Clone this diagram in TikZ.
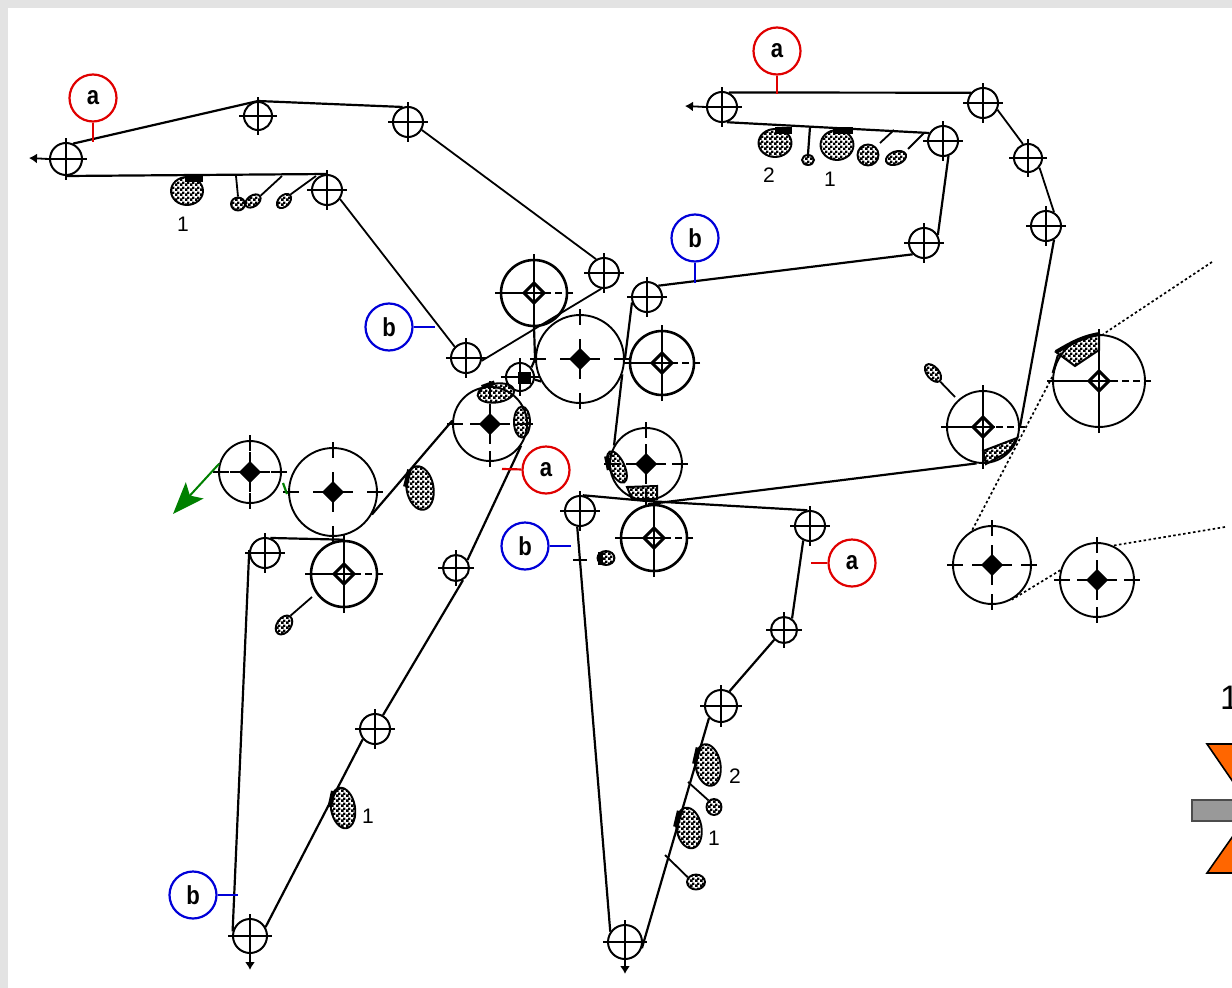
\documentclass[tikz,border=0pt]{standalone}
\usepackage{fontspec}
\setmainfont{Liberation Sans}
\usetikzlibrary{patterns,shapes.geometric,arrows.meta}
\pgfdeclarepatternformonly{checks}{\pgfqpoint{0pt}{0pt}}{\pgfqpoint{4.6pt}{4.6pt}}{\pgfqpoint{4.6pt}{4.6pt}}{%
  \pgfpathrectangle{\pgfqpoint{0pt}{0pt}}{\pgfqpoint{2.7pt}{2.7pt}}%
  \pgfpathrectangle{\pgfqpoint{2.3pt}{2.3pt}}{\pgfqpoint{2.3pt}{2.3pt}}%
  \pgfusepath{fill}}
\definecolor{redl}{HTML}{E00000}
\definecolor{bluel}{HTML}{0000D8}
\definecolor{greenl}{HTML}{008000}
\definecolor{orng}{HTML}{FF6600}
\definecolor{gry}{HTML}{999999}
\tikzset{
  rim/.style={circle,draw=black,line width=2pt,inner sep=0pt},
  thickrim/.style={circle,draw=black,line width=2.6pt,inner sep=0pt},
  thinrim/.style={circle,draw=black,line width=1.9pt,inner sep=0pt},
  belt/.style={draw=black,line width=2.2pt},
  thinbelt/.style={draw=black,line width=1.8pt},
  cross/.style={draw=black,line width=2pt},
  dotbelt/.style={draw=black,line width=1.7pt,dash pattern=on 2.5pt off 2.5pt},
  blob/.style={ellipse,draw=black,line width=1.9pt,inner sep=0pt,pattern=checks,pattern color=black},
  lab/.style={circle,line width=2.2pt,inner sep=0pt,minimum size=47pt,font=\bfseries\fontsize{26}{26}\selectfont},
  laba/.style={lab,draw=redl},
  labb/.style={lab,draw=bluel},
  labline/.style={line width=2.2pt},
  num/.style={font=\fontsize{21}{21}\selectfont,inner sep=0pt},
  tiparrow/.style={draw=black,line width=1.8pt,-{Latex[length=8pt,width=10pt]}},
  hatch/.style={draw=black,line width=2pt,pattern=checks,pattern color=black},
}
% small guide roller: name, x, y, r
\newcommand\srol[4]{\node[rim,minimum size=#4*2pt] (#1) at (#2,#3) {};
  \draw[cross] (#1.center) ++({-#4-5},0) -- ++({2*#4+10},0);
  \draw[cross] (#1.center) ++(0,{-#4-5}) -- ++(0,{2*#4+10});}
% solid hub diamond
\newcommand\hubb[2]{\fill[black] (#1,#2) ++(-11,0) -- ++(11,-11) -- ++(11,11) -- ++(-11,11) -- cycle;
  \draw[cross] (#1,#2) ++(-20,0) -- ++(40,0);
  \draw[cross] (#1,#2) ++(0,-20) -- ++(0,40);}
% large cylinder with short rim ticks and a black hub
\newcommand\brol[4]{\node[thinrim,minimum size=#4*2pt] (#1) at (#2,#3) {};
  \hubb{#2}{#3}
  \draw[cross] (#1.north) ++(0,-5) -- ++(0,16);
  \draw[cross] (#1.south) ++(0,5) -- ++(0,-16);
  \draw[cross] (#1.west) ++(-5,0) -- ++(16,0);
  \draw[cross] (#1.east) ++(5,0) -- ++(-16,0);}
% cylinder with long arms and an open hub
\newcommand\trol[5]{\node[#5,minimum size=#4*2pt] (#1) at (#2,#3) {};
  \draw[cross] (#2,#3) ++(0,{-#4-6}) -- ++(0,{#4-4});
  \draw[cross] (#2,#3) ++(0,{#4+6}) -- ++(0,{-#4+4});
  \draw[cross] (#2,#3) ++({-#4-6},0) -- ++({#4-4},0);
  \draw[cross,dash pattern=on 7pt off 4pt] (#2,#3) ++({#4+6},0) -- ++({-#4+4},0);
  \draw[black,line width=3pt] (#2,#3) ++(-10,0) -- ++(10,-10) -- ++(10,10) -- ++(-10,10) -- cycle;
  \draw[cross] (#2,#3) ++(-12,0) -- ++(24,0);
  \draw[cross] (#2,#3) ++(0,-12) -- ++(0,24);}
% dark stretch on a coater's edge
\newcommand\dab[3]{\draw[black,line width=4.5pt] (#1.#2) -- (#1.#3);}
\begin{document}
\begin{tikzpicture}[x=1pt,y=-1pt]
\useasboundingbox (0,0) rectangle (1232,988);
\clip (0,0) rectangle (1232,988);
\fill[gray!22] (0,0) rectangle (1232,988);
\fill[white] (8,8) rectangle (1232,988);
% ---- guide rollers
\srol{ta}{66}{159}{16}
\srol{tb}{258}{116}{14}
\srol{tc}{408}{122}{15}
\srol{td}{327}{190}{15}
\srol{te}{604}{273}{15}
\srol{tf}{466}{358}{15}
\srol{pa}{647}{297}{15}
\srol{ua}{722}{107}{15}
\srol{ub}{983}{103}{15}
\srol{uc}{943}{141}{15}
\srol{ud}{1028}{158}{14}
\srol{ue}{1046}{226}{15}
\srol{uf}{924}{243}{15}
\srol{ra}{265}{553}{15}
\srol{rb}{250}{936}{17}
\srol{rc}{375}{729}{15}
\srol{rd}{456}{568}{13}
\srol{pb}{580}{511}{15}
\srol{pc}{810}{526}{15}
\srol{pd}{784}{630}{13}
\srol{pe}{721}{706}{16}
\srol{pf}{625}{942}{17}
\srol{sm}{520}{377}{14}
\fill[black] (518,372) rectangle (531,384);
% ---- large cylinders
\trol{ca}{534}{293}{33}{thickrim}
\brol{cb}{580}{359}{44}
\trol{cc}{662}{363}{32}{thickrim}
\brol{cd}{490}{424}{37}
\brol{ce}{646}{464}{36}
\trol{cf}{654}{538}{33}{thickrim}
\brol{ch}{250}{472}{31}
\brol{ci}{333}{492}{44}
\trol{cj}{344}{574}{33}{thickrim}
\trol{ck}{983}{427}{36}{thinrim}
\trol{cl}{1099}{381}{46}{thinrim}
\brol{cm}{992}{565}{39}
\brol{cn}{1097}{580}{37}
% ---- felts and belts
\coordinate (tatip) at (29,158);
\draw[tiparrow] (ta.west) -- (tatip);
\path[belt] (ta.65) -- (tb.90) -- (tc.110);
\path[thinbelt] (tc.-30) -- (te.120);
\path[belt] (ta.-90) -- (td.90);
\path[thinbelt] (td.-35) -- (tf.135);
\path[thinbelt] (tf.-10) -- (te.-100);
\coordinate (uatip) at (685,106);
\draw[tiparrow] (ua.west) -- (uatip);
\path[belt] (ua.65) -- (ub.140);
\path[belt] (ua.-72) -- (uc.150);
\path[belt] (uc.-70) -- (uf.30);
\path[belt] (uf.-135) -- (pa.45);
\path[thinbelt] (ub.-25) -- (ud.110);
\path[thinbelt] (ud.-40) -- (ue.60);
\path[belt] (ue.-60) -- (ck.east);
\path[belt] (pa.-160) -- (cb.0);
\path[belt] (cb.-20) -- (ce.150);
\path[belt] (cf.100) -- (ck.-100);
\path[belt] (pb.80) -- (ce.south) -- (pc.100);
\path[belt] (pc.-115) -- (pd.55);
\path[belt] (pd.-135) -- (pe.60);
\path[belt] (pe.-135) -- (pf.-20);
\path[belt] (pf.145) -- (pb.-100);
\path[belt] (cj.90) -- (ra.70);
\path[belt] (ra.170) -- (rb.165);
\path[belt] (rb.30) -- (rc.-140);
\path[belt] (rc.60) -- (rd.-60);
\path[belt] (rd.35) -- (cd.-35);
\path[belt] (ci.-30) -- (cd.175);
\path[belt] (ca.south) -- (cb.west) -- (sm.40);
\path[belt] (cb.-150) -- (sm.-10);
% dotted web
\coordinate (wa) at (1212,262);
\coordinate (wb) at (1225,527);
\path[dotbelt] (wa) -- (cl.85);
\path[dotbelt] (cl.175) -- (cm.120);
\path[dotbelt] (wb) -- (cn.65);
\path[dotbelt] (cn.165) -- (cm.-60);
% coated web wraps
\draw[hatch] (cl.90) to[out=190,in=30] (1056,352) -- (1075,366) -- (1099,350) -- cycle;
\draw[black,line width=4pt] (cl.90) to[out=190,in=30] (1056,352);
\draw[hatch] (983,451) -- (1017,438) -- (1008,452) -- (986,464) -- cycle;
\path[belt] (cl.170) -- (1058,355);
% ---- coaters
\node[blob,minimum width=32pt,minimum height=28pt] (ba) at (187,191) {};
\fill[black] (185,175) rectangle (203,182);
\node[blob,minimum width=14pt,minimum height=13pt] (bb) at (238,204) {};
\node[blob,minimum width=17pt,minimum height=11pt,rotate=35] (bc) at (253,201) {};
\node[blob,minimum width=17pt,minimum height=11pt,rotate=45] (bd) at (284,201) {};
\coordinate (tba) at (236,176); \coordinate (tbc) at (282,176); \coordinate (tbd) at (316,176);
\path[thinbelt] (tba) -- (bb.north);
\path[thinbelt] (tbc) -- (bc.east);
\path[thinbelt] (tbd) -- (bd.east);
\node[blob,minimum width=33pt,minimum height=28pt] (be) at (775,143) {};
\fill[black] (775,127) rectangle (792,134);
\node[blob,minimum width=33pt,minimum height=30pt] (bf) at (837,145) {};
\fill[black] (833,127) rectangle (853,134);
\node[blob,minimum width=12pt,minimum height=10pt] (bg) at (808,160) {};
\node[blob,minimum width=21pt,minimum height=21pt] (bh) at (868,155) {};
\node[blob,minimum width=21pt,minimum height=13pt,rotate=20] (bi) at (896,158) {};
\coordinate (tbg) at (810,127); \coordinate (tbh) at (894,130); \coordinate (tbi) at (924,133);
\path[belt] (tbg) -- (bg.north);
\coordinate (tbh2) at (880,143); \coordinate (tbi2) at (908,149);
\path[thinbelt] (tbh) -- (tbh2);
\path[thinbelt] (tbi) -- (tbi2);
\node[blob,minimum width=12pt,minimum height=21pt,rotate=40] (bj) at (933,373) {};
\coordinate (bjgap) at (955,397);
\path[thinbelt] (bj.south) -- (bjgap);
\node[blob,minimum width=37pt,minimum height=19pt,rotate=8] (bk) at (496,393) {};
\dab{bk}{90}{150}
\node[blob,minimum width=16pt,minimum height=31pt] (bl) at (522,422) {};
\node[blob,minimum width=15pt,minimum height=34pt,rotate=25] (bm) at (617,467) {};
\dab{bm}{110}{175}
\draw[hatch] (627,487) -- (632,499) -- (657,499) -- (657,486) -- cycle;
\node[blob,minimum width=27pt,minimum height=44pt,rotate=10] (bn) at (420,488) {};
\dab{bn}{110}{165}
\node[blob,minimum width=14pt,minimum height=21pt,rotate=-35] (bo) at (284,625) {};
\coordinate (bogap) at (312,597);
\path[thinbelt] (bo.north) -- (bogap);
\node[blob,minimum width=17pt,minimum height=14pt] (bp) at (606,558) {};
\dab{bp}{130}{230}
\coordinate (tbp) at (573,560); \coordinate (tbq) at (587,560);
\path[belt] (tbp) -- (tbq);
\node[blob,minimum width=24pt,minimum height=41pt,rotate=10] (bq) at (343,808) {};
\dab{bq}{110}{165}
\node[blob,minimum width=25pt,minimum height=42pt,rotate=10] (br) at (708,765) {};
\dab{br}{110}{165}
\node[blob,minimum width=25pt,minimum height=41pt,rotate=10] (bs) at (689,828) {};
\dab{bs}{110}{165}
\node[blob,minimum width=15pt,minimum height=16pt] (bt) at (714,807) {};
\node[blob,minimum width=18pt,minimum height=15pt] (bu) at (696,882) {};
\coordinate (tbt) at (688,782); \coordinate (tbu) at (665,855);
\path[thinbelt] (tbt) -- (bt.130);
\path[thinbelt] (tbu) -- (bu.150);
% ---- green arrow
\coordinate (gtip) at (173,514);
\draw[greenl,line width=2pt,-{Stealth[length=32pt,width=24pt,inset=7pt]}] (ch.165) -- (gtip);
\coordinate (ga) at (283,483); \coordinate (gb) at (287,494);
\draw[greenl,line width=2.2pt] (ga) -- (gb);
% ---- callouts
\node[laba] (la) at (93,98) {\scalebox{.85}[1]{a}};
\node[laba] (lb) at (777,51) {\scalebox{.85}[1]{a}};
\node[laba] (lc) at (546,470) {\scalebox{.85}[1]{a}};
\node[laba] (ld) at (852,563) {\scalebox{.85}[1]{a}};
\node[labb] (le) at (389,327) {\scalebox{.85}[1]{b}};
\node[labb] (lf) at (695,238) {\scalebox{.85}[1]{b}};
\node[labb] (lg) at (525,546) {\scalebox{.85}[1]{b}};
\node[labb] (lh) at (193,895) {\scalebox{.85}[1]{b}};
\coordinate (xa) at (93,142); \coordinate (xb) at (777,94);
\coordinate (xc) at (502,469); \coordinate (xd) at (811,563);
\coordinate (xe) at (435,327); \coordinate (xf) at (695,283);
\coordinate (xg) at (571,546); \coordinate (xh) at (238,895);
\draw[redl,labline] (la) -- (xa);
\draw[redl,labline] (lb) -- (xb);
\draw[redl,labline] (lc) -- (xc);
\draw[redl,labline] (ld) -- (xd);
\draw[bluel,labline] (le) -- (xe);
\draw[bluel,labline] (lf) -- (xf);
\draw[bluel,labline] (lg) -- (xg);
\draw[bluel,labline] (lh) -- (xh);
% ---- end arrows at the bottom rollers
\coordinate (rbtip) at (250,970); \coordinate (pftip) at (625,974);
\draw[tiparrow] (rb.south) -- (rbtip);
\draw[tiparrow] (pf.south) -- (pftip);
% ---- numbers
\node[num] (na) at (183,224) {1};
\node[num] (nb) at (769,175) {2};
\node[num] (nc) at (830,179) {1};
\node[num] (nd) at (368,816) {1};
\node[num] (ne) at (735,776) {2};
\node[num] (nf) at (714,838) {1};
% ---- legend, cut off by the edge
\node[font=\fontsize{34}{34}\selectfont,inner sep=0pt,anchor=west] (lg1) at (1220,698) {1};
\path[draw=black,line width=1.6pt,fill=orng] (1207,744) -- (1240,744) -- (1240,792) -- cycle;
\path[draw=black,line width=1.6pt,fill=orng] (1207,873) -- (1240,873) -- (1240,826) -- cycle;
\path[draw=black!70,line width=1.6pt,fill=gry] (1192,800) rectangle (1240,821);
\end{tikzpicture}
\end{document}
